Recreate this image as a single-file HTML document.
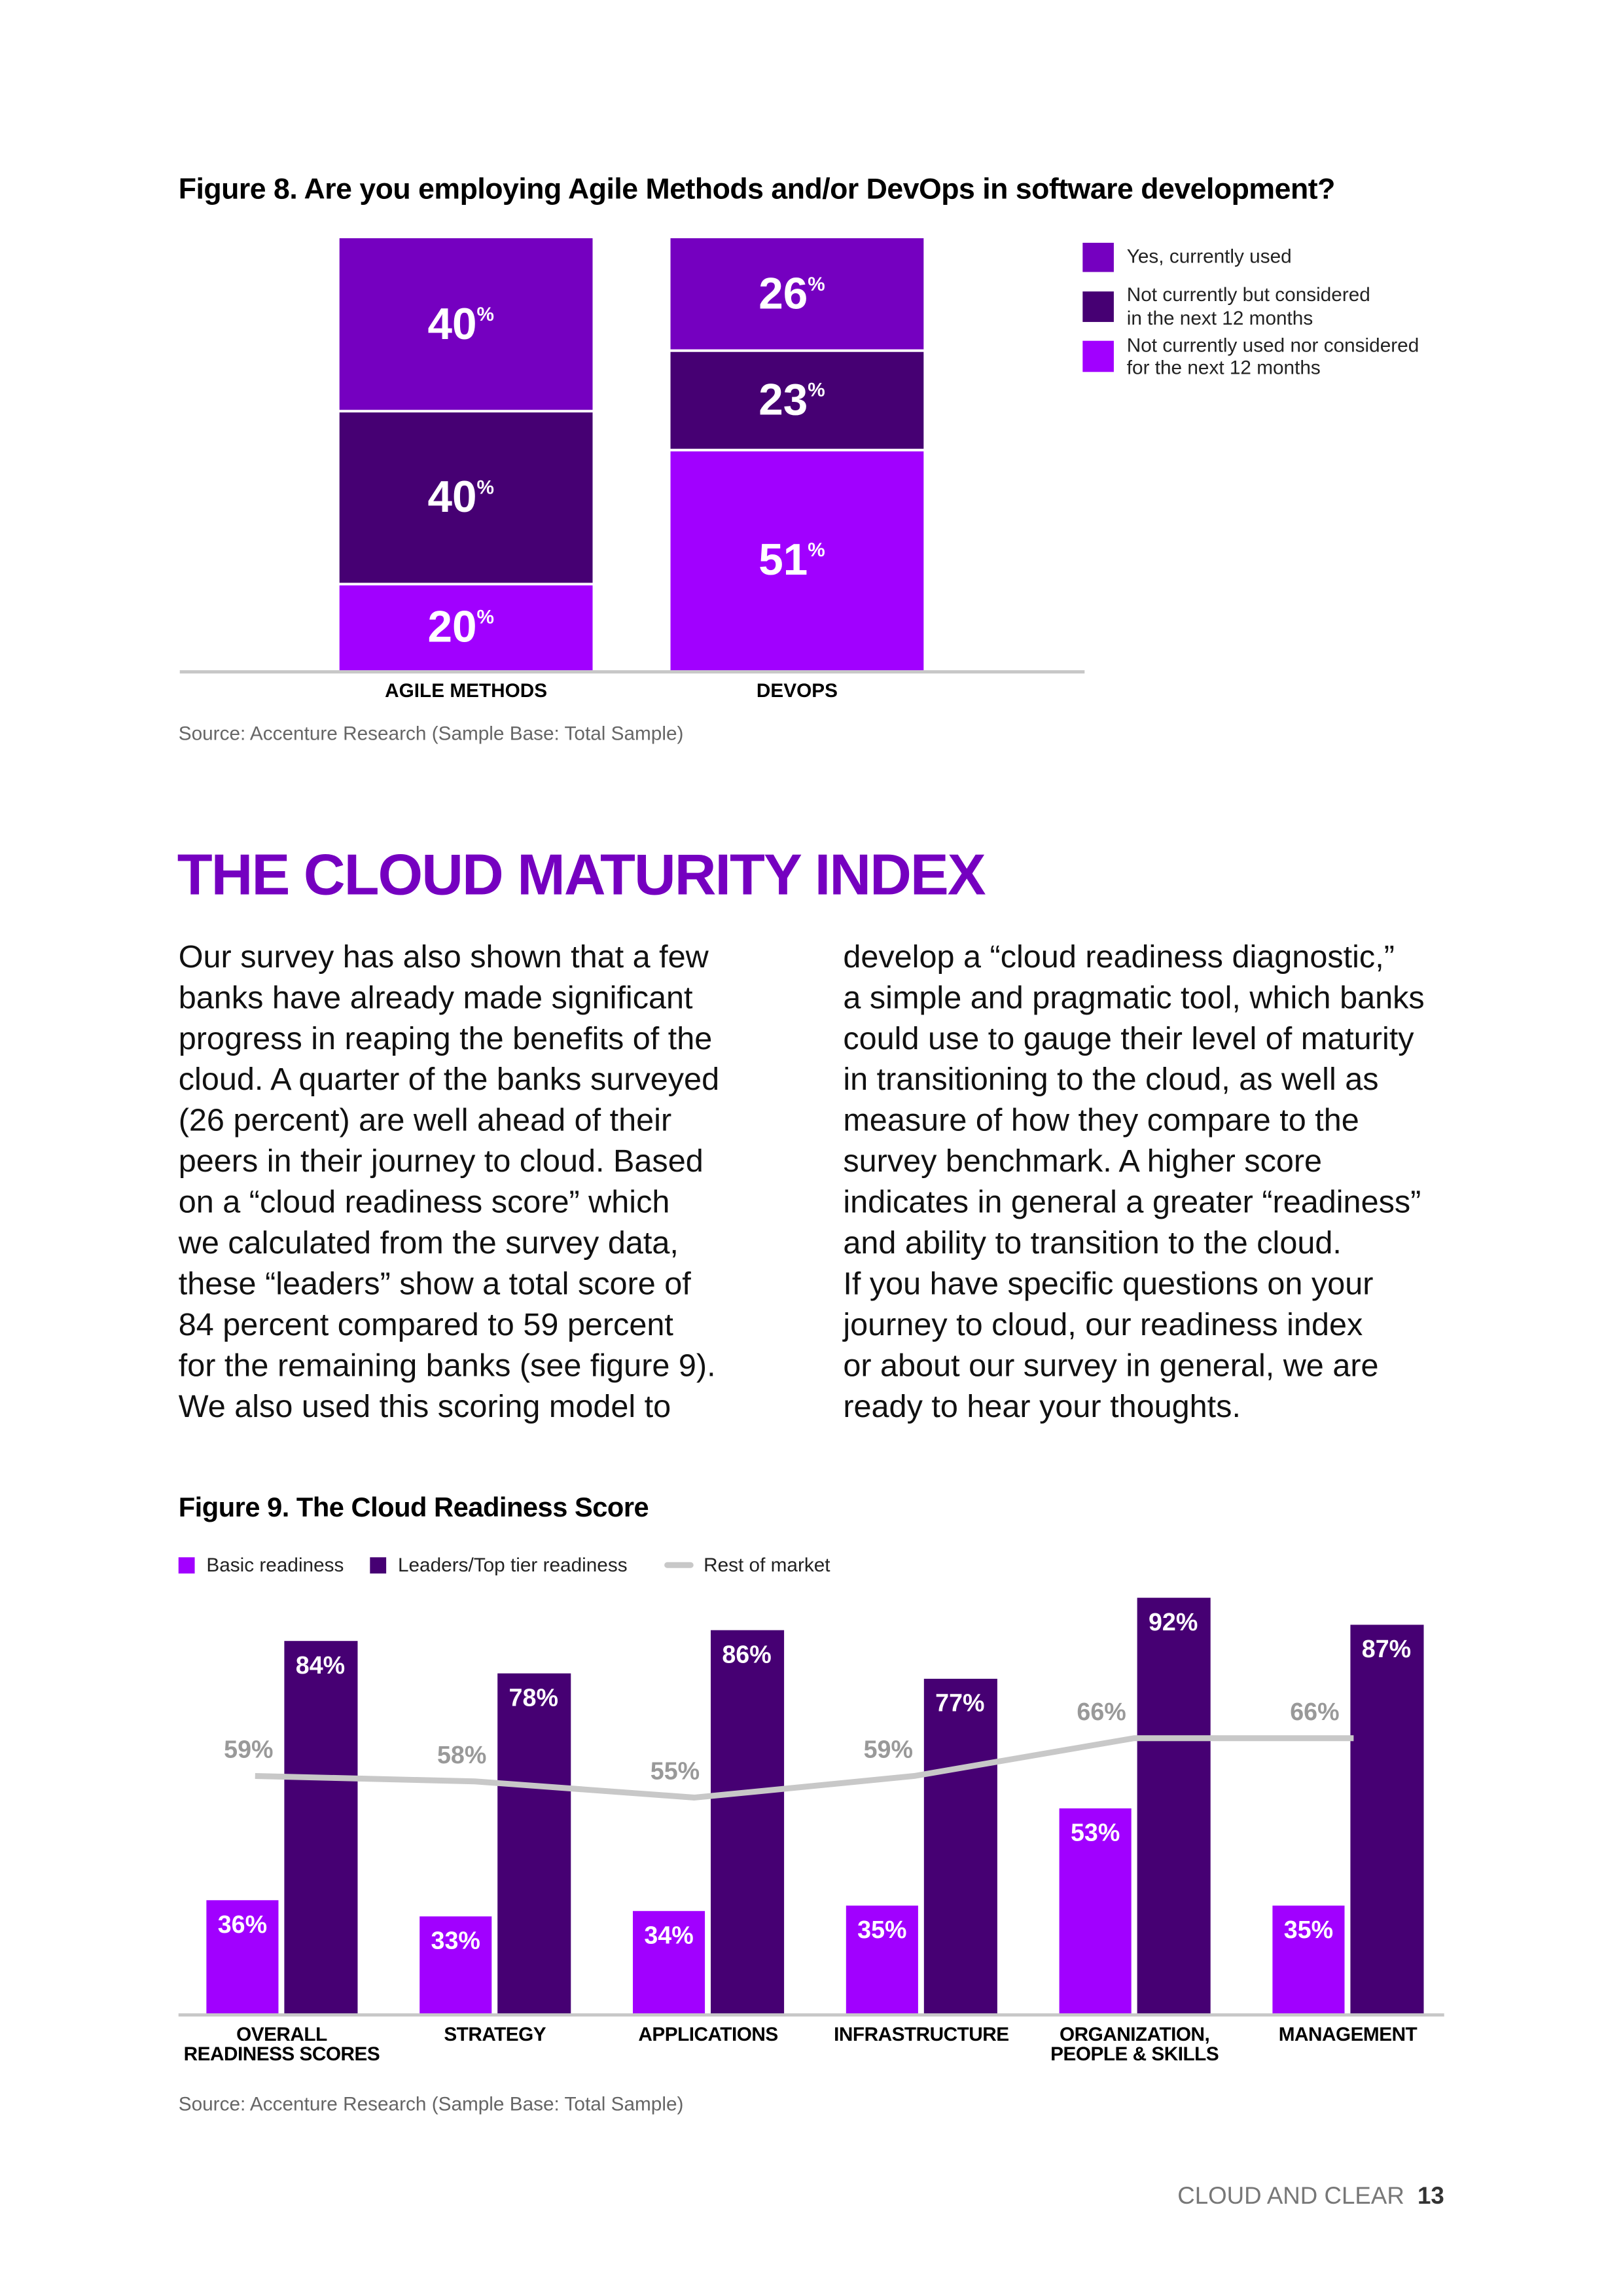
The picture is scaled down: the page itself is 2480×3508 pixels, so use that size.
<!DOCTYPE html>
<html><head><meta charset="utf-8"><style>
html,body{margin:0;padding:0;background:#fff}
svg{display:block}
text{font-family:"Liberation Sans",sans-serif}
</style></head><body>
<svg id="page" width="2480" height="3508" viewBox="0 0 2500.5 3537" xmlns="http://www.w3.org/2000/svg">
<text x="275" y="306" font-size="45" font-weight="bold" fill="#000" letter-spacing="-0.5">Figure 8. Are you employing Agile Methods and/or DevOps in software development?</text>
<g id="fig8"></g>
<line x1="277" y1="1035" x2="1671" y2="1035" stroke="#c8c8c8" stroke-width="5"/>
<g font-size="30" fill="#222">
<rect x="1668" y="374" width="48" height="45" fill="#7500c0"/>
<text x="1736" y="405">Yes, currently used</text>
<rect x="1668" y="449" width="48" height="47" fill="#460073"/>
<text x="1736" y="464">Not currently but considered</text>
<text x="1736" y="500">in the next 12 months</text>
<rect x="1668" y="525" width="48" height="48" fill="#a100ff"/>
<text x="1736" y="542">Not currently used nor considered</text>
<text x="1736" y="576">for the next 12 months</text>
</g>
<text x="275" y="1140" font-size="30" fill="#666">Source: Accenture Research (Sample Base: Total Sample)</text>

<text x="273" y="1378" font-size="89" font-weight="bold" fill="#7500c0" letter-spacing="-2">THE CLOUD MATURITY INDEX</text>

<g font-size="49" fill="#111">
<text x="275" y="1490">Our survey has also shown that a few</text>
<text x="275" y="1553">banks have already made significant</text>
<text x="275" y="1616">progress in reaping the benefits of the</text>
<text x="275" y="1679">cloud. A quarter of the banks surveyed</text>
<text x="275" y="1742">(26 percent) are well ahead of their</text>
<text x="275" y="1805">peers in their journey to cloud. Based</text>
<text x="275" y="1868">on a “cloud readiness score” which</text>
<text x="275" y="1931">we calculated from the survey data,</text>
<text x="275" y="1994">these “leaders” show a total score of</text>
<text x="275" y="2057">84 percent compared to 59 percent</text>
<text x="275" y="2120">for the remaining banks (see figure 9).</text>
<text x="275" y="2183">We also used this scoring model to</text>
</g>
<g font-size="49" fill="#111">
<text x="1299" y="1490">develop a “cloud readiness diagnostic,”</text>
<text x="1299" y="1553">a simple and pragmatic tool, which banks</text>
<text x="1299" y="1616">could use to gauge their level of maturity</text>
<text x="1299" y="1679">in transitioning to the cloud, as well as</text>
<text x="1299" y="1742">measure of how they compare to the</text>
<text x="1299" y="1805">survey benchmark. A higher score</text>
<text x="1299" y="1868">indicates in general a greater “readiness”</text>
<text x="1299" y="1931">and ability to transition to the cloud.</text>
<text x="1299" y="1994">If you have specific questions on your</text>
<text x="1299" y="2057">journey to cloud, our readiness index</text>
<text x="1299" y="2120">or about our survey in general, we are</text>
<text x="1299" y="2183">ready to hear your thoughts.</text>
</g>

<text x="275" y="2336" font-size="42" font-weight="bold" fill="#000" letter-spacing="-0.5">Figure 9. The Cloud Readiness Score</text>
<g font-size="30" fill="#222">
<rect x="275" y="2399" width="25" height="25" fill="#a100ff"/>
<text x="318" y="2421">Basic readiness</text>
<rect x="570" y="2399" width="25" height="25" fill="#460073"/>
<text x="613" y="2421">Leaders/Top tier readiness</text>
<line x1="1028" y1="2411" x2="1064" y2="2411" stroke="#c8c8c8" stroke-width="9" stroke-linecap="round"/>
<text x="1084" y="2421">Rest of market</text>
</g>
<g id="fig9"></g>
<text x="275" y="3251" font-size="30" fill="#666">Source: Accenture Research (Sample Base: Total Sample)</text>
<text x="2225" y="3395" font-size="37" text-anchor="end" fill="#777">CLOUD AND CLEAR <tspan font-weight="bold" fill="#333" dx="10">13</tspan></text>
</svg>
<script>
var NS="http://www.w3.org/2000/svg";
var f8Categories=["AGILE METHODS","DEVOPS"];
var f8Yes=[40,26];
var f8Considered=[40,23];
var f8NotConsidered=[20,51];
var f9Categories=[["OVERALL","READINESS SCORES"],["STRATEGY"],["APPLICATIONS"],["INFRASTRUCTURE"],["ORGANIZATION,","PEOPLE & SKILLS"],["MANAGEMENT"]];
var f9Basic=[36,33,34,35,53,35];
var f9Leaders=[84,78,86,77,92,87];
var f9Market=[59,58,55,59,66,66];

function mk(tag,attrs,parent){var e=document.createElementNS(NS,tag);for(var k in attrs)e.setAttribute(k,attrs[k]);parent.appendChild(e);return e;}

// Figure 8
var g8=document.getElementById("fig8");
var f8Top=367,f8H=666,f8X=[523,1033],f8W=390;
function y8(cum){return f8Top+cum/100*f8H;}
var f8Series=[[f8Yes,"#7500c0","yes"],[f8Considered,"#460073","considered"],[f8NotConsidered,"#a100ff","not-considered"]];
for(var i=0;i<f8Categories.length;i++){
  var cum=0;
  for(var s=0;s<3;s++){
    var v=f8Series[s][0][i];
    var y0=y8(cum),y1=y8(cum+v);
    var r=mk("rect",{x:f8X[i],y:y0+(s?2:0),width:f8W,height:y1-y0-(s?2:0)-(s<2?2:0),fill:f8Series[s][1]},g8);
    
    
    var t=mk("text",{x:f8X[i]+f8W/2-8,y:(y0+y1)/2+22,"font-size":68,"font-weight":"bold",fill:"#fff","text-anchor":"middle"},g8);
    
    
    t.textContent=v;
    var p=mk("tspan",{"font-size":30,dy:-28},t);p.textContent="%";
    cum+=v;
  }
  var c=mk("text",{x:f8X[i]+f8W/2,y:1074,"font-size":30,"font-weight":"bold","text-anchor":"middle",fill:"#000"},g8);
  
  
  c.textContent=f8Categories[i];
}

// Figure 9
var g9=document.getElementById("fig9");
var base=3102,vmin=15,pxPer=8.32;
function y9(v){return base-(v-vmin)*pxPer;}
function x9(i){return 318+i*328.5;}
var bw=111;
var pts=[];
for(var i=0;i<f9Categories.length;i++){
  var xb=x9(i),xl=xb+120;
  var r1=mk("rect",{x:xb,y:y9(f9Basic[i]),width:bw,height:base-y9(f9Basic[i]),fill:"#a100ff"},g9);
  
  
  var r2=mk("rect",{x:xl,y:y9(f9Leaders[i]),width:bw+2,height:base-y9(f9Leaders[i]),fill:"#460073"},g9);
  
  
  var t1=mk("text",{x:xb+bw/2,y:y9(f9Basic[i])+50,"font-size":38,"font-weight":"bold",fill:"#fff","text-anchor":"middle"},g9);
  
  
  t1.textContent=f9Basic[i]+"%";
  var t2=mk("text",{x:xl+bw/2,y:y9(f9Leaders[i])+50,"font-size":38,"font-weight":"bold",fill:"#fff","text-anchor":"middle"},g9);
  
  
  t2.textContent=f9Leaders[i]+"%";
  var lines=f9Categories[i];
  for(var k=0;k<lines.length;k++){
    var c=mk("text",{x:xb+116,y:3144+k*30,"font-size":30,"font-weight":"bold","text-anchor":"middle",fill:"#000",
      "letter-spacing":"-0.5"},g9);
    
    
    c.textContent=lines[k];
  }
  pts.push([xb+75+10*i,y9(f9Market[i])]);
}
var pl=mk("polyline",{points:pts.map(function(p){return p.join(",");}).join(" "),fill:"none",stroke:"#c8c8c8","stroke-width":9,"stroke-linejoin":"round"},g9);


for(var i=0;i<pts.length;i++){
  var t=mk("text",{x:pts[i][0]-10-10*i,y:pts[i][1]-28,"font-size":38,"font-weight":"bold",fill:"#999","text-anchor":"middle"},g9);
  
  
  t.textContent=f9Market[i]+"%";
}
var ax=mk("line",{x1:275,y1:base+2,x2:2225,y2:base+2,stroke:"#c8c8c8","stroke-width":5},g9);


</script>
</body></html>
